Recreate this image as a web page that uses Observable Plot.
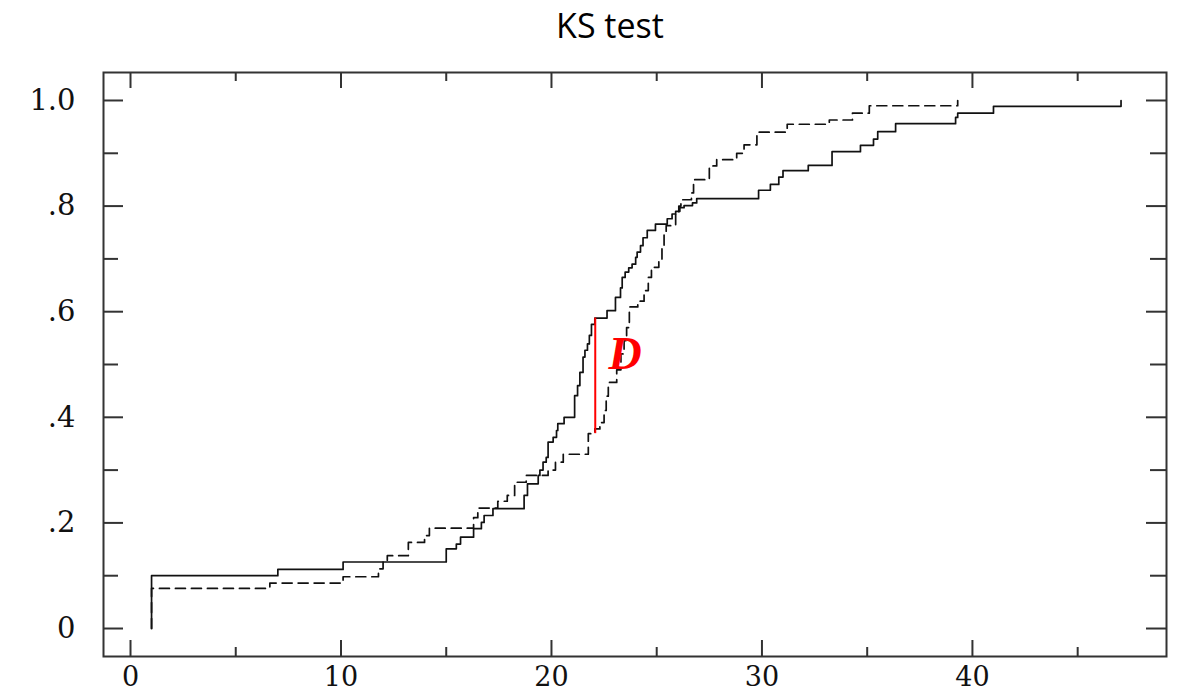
<!DOCTYPE html>
<html>
<head>
<meta charset="utf-8">
<script src="https://cdn.jsdelivr.net/npm/d3@7"></script>
<script src="https://cdn.jsdelivr.net/npm/@observablehq/plot@0.6"></script>
<style>
  html, body { margin: 0; padding: 0; background: #fff; }
  #title { width: 1178px; height: 60px; box-sizing: border-box; padding-left: 42px; padding-top: 8px;
           text-align: center; font: 34px/34px "Open Sans", sans-serif; color: #000; }
</style>
</head>
<body>
<div id="title">KS test</div>
<div id="chart"></div>
<script>
// ---- data ----
const solidSteps = [
  [1, 0], [1, 0.100], [7.0, 0.112], [10.1, 0.126], [15.0, 0.151], [15.48, 0.160], [15.68, 0.173],
  [16.3, 0.189], [16.67, 0.201], [16.8, 0.214], [17.22, 0.227], [18.7, 0.252], [18.86, 0.274],
  [19.37, 0.290], [19.45, 0.300], [19.6, 0.315], [19.75, 0.324], [19.84, 0.353], [20.08, 0.362],
  [20.24, 0.375], [20.3, 0.388], [20.6, 0.400], [21.1, 0.441], [21.24, 0.460], [21.35, 0.485],
  [21.5, 0.514], [21.59, 0.527], [21.71, 0.539], [21.8, 0.555], [21.9, 0.576], [22.06, 0.588],
  [22.64, 0.602], [23.04, 0.627], [23.28, 0.645], [23.36, 0.665], [23.5, 0.675], [23.67, 0.683],
  [23.83, 0.690], [24.0, 0.703], [24.07, 0.713], [24.23, 0.725], [24.35, 0.740], [24.55, 0.754],
  [24.94, 0.766], [25.5, 0.776], [25.73, 0.785], [25.9, 0.790], [26.1, 0.797], [26.3, 0.801],
  [26.7, 0.806], [26.9, 0.814], [29.84, 0.830], [30.4, 0.841], [30.8, 0.855], [31.0, 0.867],
  [32.2, 0.877], [33.33, 0.903], [34.68, 0.915], [35.3, 0.927], [35.5, 0.941], [36.35, 0.956],
  [39.2, 0.968], [39.3, 0.976], [41.0, 0.989], [47.06, 1.0]
];
const dashedSteps = [
  [1, 0], [1, 0.076], [6.62, 0.086], [10.1, 0.098], [11.78, 0.113], [12.0, 0.126], [12.2, 0.138],
  [13.2, 0.163], [13.97, 0.176], [14.2, 0.190], [16.3, 0.210], [16.5, 0.228], [17.45, 0.241],
  [17.9, 0.252], [18.25, 0.277], [18.8, 0.290], [19.84, 0.300], [20.19, 0.315], [20.56, 0.330],
  [21.75, 0.369], [22.06, 0.378], [22.3, 0.390], [22.5, 0.413], [22.6, 0.440], [22.7, 0.466],
  [23.1, 0.490], [23.3, 0.520], [23.45, 0.545], [23.57, 0.570], [23.7, 0.609], [24.1, 0.620],
  [24.4, 0.640], [24.6, 0.665], [24.75, 0.684], [25.1, 0.700], [25.25, 0.720], [25.35, 0.750],
  [25.45, 0.763], [25.9, 0.785], [26.05, 0.800], [26.15, 0.812], [26.65, 0.825], [26.75, 0.850],
  [27.5, 0.876], [27.85, 0.888], [28.8, 0.900], [29.15, 0.916], [29.76, 0.940], [31.2, 0.955],
  [33.2, 0.963], [34.3, 0.976], [35.1, 0.990], [39.3, 1.0]
];
const dStatistic = {x: 22.08, low: 0.369, high: 0.588};
const dLabel = {x: 23.5, y: 0.52, text: "D"};

const xMajorTicks = [0, 10, 20, 30, 40];
const xMinorTicks = [5, 15, 25, 35, 45];
const xTickLabels = ["0", "10", "20", "30", "40"];
const yMajorTicks = [0, 0.2, 0.4, 0.6, 0.8, 1.0];
const yMinorTicks = [0.1, 0.3, 0.5, 0.7, 0.9];
const yTickLabels = ["0", ".2", ".4", ".6", ".8", "1.0"];

// ---- layout ----
const W = 1178, H = 633, mT = 12, mB = 37, mL = 103, mR = 12;
const frameH = H - mT - mB, frameW = W - mL - mR;
const solid = solidSteps.map(([x, y]) => ({x, y}));
const dashed = dashedSteps.map(([x, y]) => ({x, y}));
const xLab = xMajorTicks.map((v, i) => ({v, t: xTickLabels[i]}));
const yLab = yMajorTicks.map((v, i) => ({v, t: yTickLabels[i]}));
const tickColor = "#333";

const chart = Plot.plot({
  width: W, height: H,
  marginTop: mT, marginBottom: mB, marginLeft: mL, marginRight: mR,
  x: {domain: [-1.283, 49.22], axis: null},
  y: {domain: [-0.053, 1.053], axis: null},
  style: {background: "#fff", fontFamily: "DejaVu Serif", color: "#000", overflow: "visible"},
  marks: [
    // ticks (inward, mirrored on all sides)
    Plot.tickX(xMajorTicks, {x: d => d, insetTop: frameH - 16, stroke: tickColor, strokeWidth: 2}),
    Plot.tickX(xMajorTicks, {x: d => d, insetBottom: frameH - 16, stroke: tickColor, strokeWidth: 2}),
    Plot.tickX(xMinorTicks, {x: d => d, insetTop: frameH - 9, stroke: tickColor, strokeWidth: 2}),
    Plot.tickX(xMinorTicks, {x: d => d, insetBottom: frameH - 9, stroke: tickColor, strokeWidth: 2}),
    Plot.tickY(yMajorTicks, {y: d => d, insetRight: frameW - 20, stroke: tickColor, strokeWidth: 2}),
    Plot.tickY(yMajorTicks, {y: d => d, insetLeft: frameW - 20, stroke: tickColor, strokeWidth: 2}),
    Plot.tickY(yMinorTicks, {y: d => d, insetRight: frameW - 15, stroke: tickColor, strokeWidth: 2}),
    Plot.tickY(yMinorTicks, {y: d => d, insetLeft: frameW - 16, stroke: tickColor, strokeWidth: 2}),
    // tick labels
    Plot.text(xLab, {x: "v", text: "t", frameAnchor: "bottom", dy: 21, lineAnchor: "middle",
      fontSize: 27, fontFamily: "DejaVu Serif", fill: "#111"}),
    Plot.text(yLab, {y: "v", text: "t", frameAnchor: "left", dx: -28, textAnchor: "end", lineAnchor: "middle",
      fontSize: 29, fontFamily: "DejaVu Serif", fill: "#111"}),
    // curves
    Plot.line(dashed, {x: "x", y: "y", curve: "step-after", stroke: "#111", strokeWidth: 1.7,
      strokeDasharray: "10,6"}),
    Plot.line(solid, {x: "x", y: "y", curve: "step-after", stroke: "#111", strokeWidth: 1.7}),
    // D statistic
    Plot.ruleX([dStatistic], {x: "x", y1: "low", y2: "high", stroke: "#ff0000", strokeWidth: 2}),
    Plot.text([dLabel], {x: "x", y: "y", text: "text", fill: "#ff0000", fontSize: 46,
      fontFamily: "Liberation Serif", fontWeight: "bold", fontStyle: "italic", lineAnchor: "middle"}),
    // frame
    Plot.frame({stroke: tickColor, strokeWidth: 2})
  ]
});
document.getElementById("chart").appendChild(chart);
</script>
</body>
</html>
